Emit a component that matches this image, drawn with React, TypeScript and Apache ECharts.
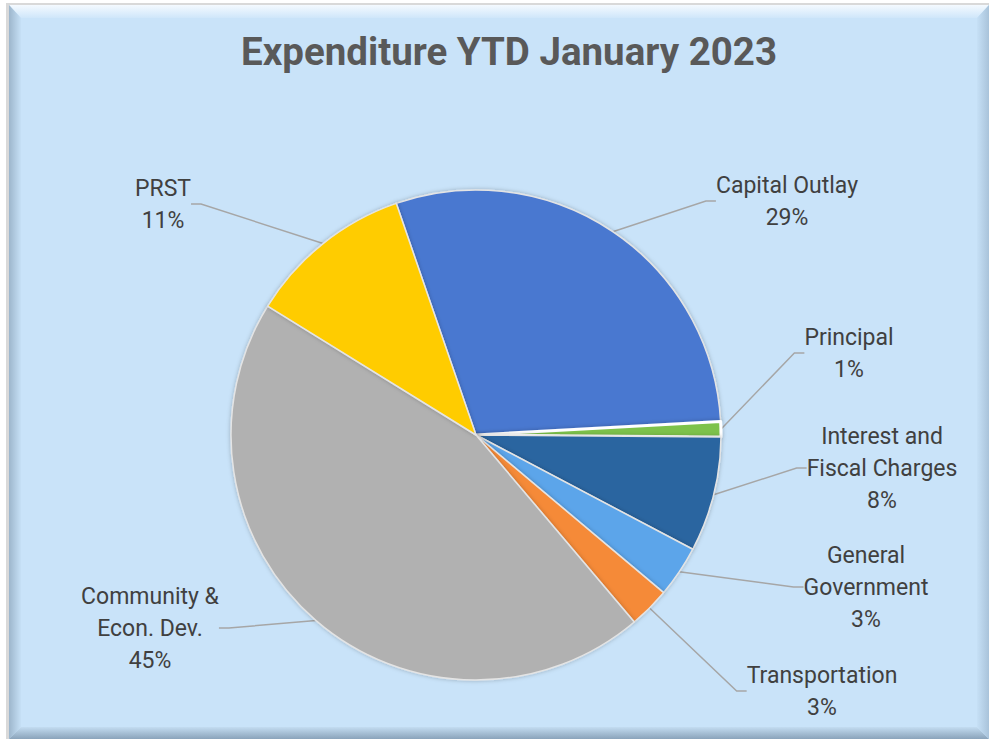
import React, { useEffect, useRef } from "react";
import * as echarts from "echarts";

const categories = [
  "Capital Outlay",
  "Principal",
  "Interest and\nFiscal Charges",
  "General\nGovernment",
  "Transportation",
  "Community &\nEcon. Dev.",
  "PRST",
];
const values = [29.4, 1.0, 7.6, 3.4, 2.7, 45.0, 10.9];
const colors = ["#4A78D0", "#7DC24B", "#2A65A0", "#5CA5EA", "#F58A38", "#B1B1B1", "#FFCC00"];
const titleText = "Expenditure YTD January 2023";

// label anchor positions (layout only)
const labelPos: [number, number][] = [
  [787, 201],
  [849, 353],
  [882, 468],
  [866, 587],
  [822, 691],
  [150, 628],
  [163, 204],
];

export default function App() {
  const ref = useRef<HTMLDivElement>(null);
  useEffect(() => {
    document.body.style.margin = "0";
    const chart = echarts.init(ref.current!, null, { renderer: "svg" });
    const font = "Roboto, 'Liberation Sans', sans-serif";
    chart.setOption({
      animation: false,
      backgroundColor: "#FFFFFF",
      graphic: [
        { type: "rect", shape: { x: 6, y: 3, width: 983, height: 736 }, style: { fill: "#D9D9D9" }, z: -10 },
        { type: "rect", shape: { x: 9, y: 5, width: 980, height: 734 }, style: { fill: "#C9E3F9" }, z: -9 },
        { type: "polygon", shape: { points: [[9, 5], [989, 5], [977, 18], [21, 18]] }, style: { fill: new echarts.graphic.LinearGradient(0, 0, 0, 1, [{ offset: 0, color: "#F4FAFF" }, { offset: 1, color: "#CFE6FA" }]) }, z: -8 },
        { type: "polygon", shape: { points: [[9, 5], [21, 18], [21, 727], [9, 739]] }, style: { fill: new echarts.graphic.LinearGradient(0, 0, 1, 0, [{ offset: 0, color: "#9DB6CC" }, { offset: 1, color: "#C6E0F6" }]) }, z: -8 },
        { type: "polygon", shape: { points: [[9, 739], [21, 727], [977, 727], [989, 739]] }, style: { fill: new echarts.graphic.LinearGradient(0, 0, 0, 1, [{ offset: 0, color: "#C3DCF1" }, { offset: 1, color: "#8AA3BA" }]) }, z: -8 },
        { type: "polygon", shape: { points: [[989, 5], [977, 18], [977, 727], [989, 739]] }, style: { fill: new echarts.graphic.LinearGradient(0, 0, 1, 0, [{ offset: 0, color: "#C6E0F6" }, { offset: 1, color: "#A9C3DA" }]) }, z: -8 },
      ],
      title: {
        text: titleText,
        left: 236,
        top: 27,
        textStyle: { fontFamily: font, fontWeight: "bold", fontSize: 38.5, color: "#595959" },
      },
      series: [
        {
          type: "pie",
          center: [476, 435],
          radius: 245,
          startAngle: 109,
          clockwise: true,
          avoidLabelOverlap: false,
          data: categories.map((name, i) => ({
            name,
            value: values[i],
            itemStyle: {
              color: colors[i],
              borderColor: i === 1 ? "#FFFFFF" : "#E4E4E4",
              borderWidth: i === 1 ? 3 : 1.5,
            },
          })),
          itemStyle: {
            shadowBlur: 4,
            shadowColor: "rgba(0,0,0,0.25)",
          },
          label: {
            show: true,
            position: "outside",
            formatter: (p: any) => `${p.name}\n${Math.round(p.percent)}%`,
            fontFamily: font,
            fontSize: 23,
            lineHeight: 32,
            color: "#404040",
            align: "center",
          },
          labelLine: {
            show: true,
            length: 20,
            length2: 10,
            lineStyle: { color: "#A6A6A6", width: 1.5 },
          },
          labelLayout: (p: any) => {
            const pos = labelPos[p.dataIndex];
            return { x: pos[0], y: pos[1], align: "center", verticalAlign: "middle" };
          },
          emphasis: { disabled: true },
        },
      ],
    });
    return () => chart.dispose();
  }, []);
  return <div ref={ref} style={{ position: "absolute", left: 0, top: 0, width: 989, height: 739 }} />;
}
